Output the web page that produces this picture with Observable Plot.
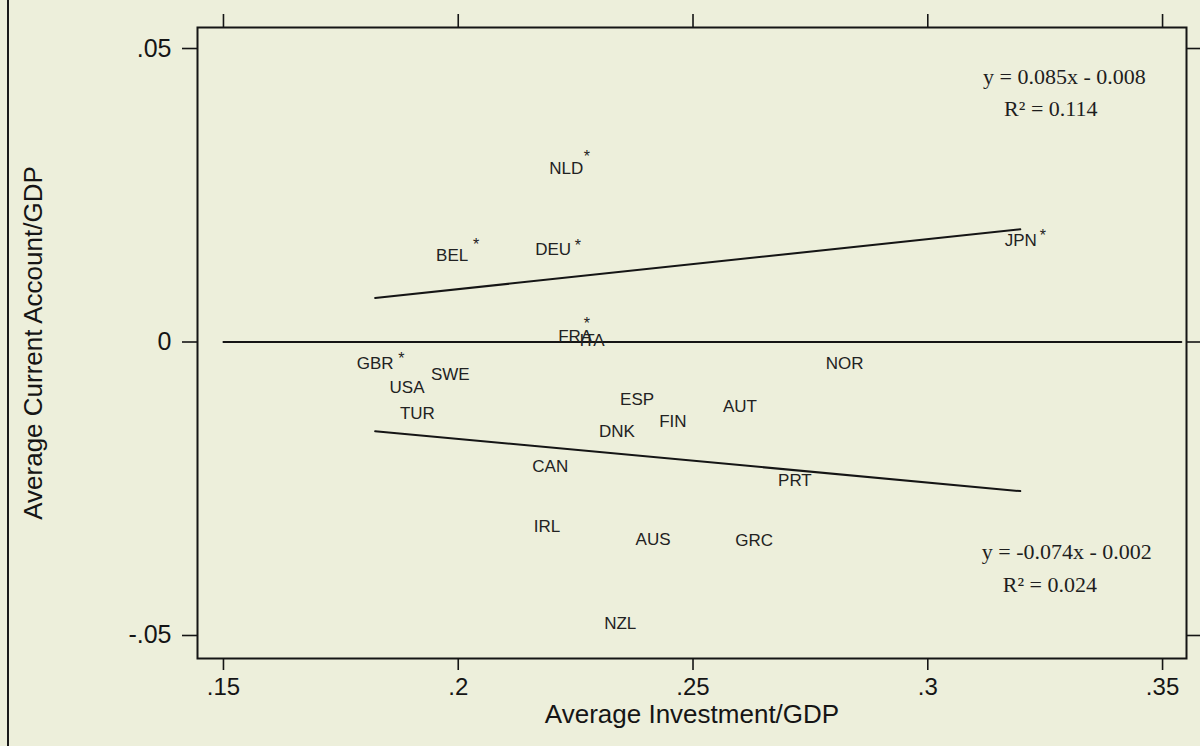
<!DOCTYPE html>
<html>
<head>
<meta charset="utf-8">
<script src="https://cdn.jsdelivr.net/npm/d3@7"></script>
<script src="https://cdn.jsdelivr.net/npm/@observablehq/plot@0.6"></script>
<style>
  html, body { margin: 0; padding: 0; background: #edefdb; }
  #wrap { position: relative; width: 1200px; height: 746px; overflow: hidden; background: #edefdb; }
  #edge { position: absolute; left: 7px; top: 0; width: 2px; height: 746px; background: #1a1a1a; }
  svg { display: block; }
</style>
</head>
<body>
<div id="wrap"><div id="edge"></div></div>
<script>
// ---- data ----
const countries = ["NLD","BEL","DEU","JPN","FRA","ITA","GBR","SWE","USA","TUR","NOR","ESP","AUT","FIN","DNK","CAN","PRT","IRL","AUS","GRC","NZL"];
const investment = [0.2230,0.1987,0.2202,0.3198,0.2249,0.2285,0.1823,0.1983,0.1891,0.1913,0.2823,0.2381,0.2600,0.2457,0.2338,0.2196,0.2717,0.2189,0.2415,0.2630,0.2345];
const currentAccount = [0.0295,0.0148,0.0158,0.0172,0.0010,0.0002,-0.0037,-0.0056,-0.0078,-0.0122,-0.0037,-0.0098,-0.0110,-0.0136,-0.0152,-0.0212,-0.0236,-0.0315,-0.0337,-0.0339,-0.0480];

// asterisk markers next to some labels
const starred = ["NLD","BEL","DEU","JPN","FRA","GBR"];
const starX = [0.2274, 0.2038, 0.2255, 0.3245, 0.2274, 0.1879];
const starY = [0.0322, 0.0172, 0.0170, 0.0187, 0.0037, -0.0022];

const fitX = [0.1823, 0.3197];
const fitUpperY = [0.0075, 0.0192];
const fitLowerY = [-0.0152, -0.0254];
const zeroLineX = [0.15, 0.354];
const zeroLineY = [0, 0];

const equations = ["y = 0.085x - 0.008", "R\u00B2 = 0.114", "y = -0.074x - 0.002", "R\u00B2 = 0.024"];
const equationX = [0.3291, 0.3262, 0.3296, 0.3260];
const equationY = [0.0451, 0.0397, -0.0358, -0.0414];

const xTicks = [0.15, 0.2, 0.25, 0.3, 0.35];
const yTicks = [0.05, 0, -0.05];
const xTitle = "Average Investment/GDP";
const yTitle = "Average Current Account/GDP";

// ---- build tables ----
const points = countries.map((c, i) => ({c, x: investment[i], y: currentAccount[i]}));
const stars = starred.map((c, i) => ({c, x: starX[i], y: starY[i]}));
const lineData = [
  ...fitX.map((x, i) => ({g: "upper", x, y: fitUpperY[i]})),
  ...fitX.map((x, i) => ({g: "lower", x, y: fitLowerY[i]})),
  ...zeroLineX.map((x, i) => ({g: "zero", x, y: zeroLineY[i]}))
];
const eqData = equations.map((t, i) => ({t, x: equationX[i], y: equationY[i]}));

const fmt = d => d === 0 ? "0" : String(d).replace("0.", ".");
const ink = "#151515";

const chart = Plot.plot({
  width: 1200,
  height: 746,
  marginLeft: 197,
  marginRight: 14,
  marginTop: 27,
  marginBottom: 88,
  style: {fontFamily: "'Liberation Sans', Arial, sans-serif", background: "transparent", color: ink},
  x: {domain: [0.14447, 0.3551], axis: null},
  y: {domain: [-0.05392, 0.05358], axis: null},
  marks: [
    Plot.line(lineData, {x: "x", y: "y", z: "g", stroke: ink, strokeWidth: 2}),
    Plot.text(points, {x: "x", y: "y", text: "c", fontSize: 17, fill: "#222"}),
    Plot.text(stars, {x: "x", y: "y", text: () => "*", fontSize: 16, fill: "#222", dy: 4}),
    Plot.text(eqData, {x: "x", y: "y", text: "t", fontSize: 22, fontFamily: "'Liberation Serif', 'Times New Roman', serif", fill: "#1e1e1e"}),
    Plot.frame({stroke: ink, strokeWidth: 2}),
    Plot.axisX({anchor: "bottom", ticks: xTicks, tickSize: 12, tickPadding: 7, tickFormat: fmt, fontSize: 24, strokeWidth: 1.6, label: null}),
    Plot.axisX({anchor: "top", ticks: xTicks, tickSize: 14, tickFormat: () => "", strokeWidth: 1.6, label: null}),
    Plot.axisY({anchor: "left", ticks: yTicks, tickSize: 15, tickPadding: 11, tickFormat: fmt, fontSize: 25, strokeWidth: 1.6, label: null}),
    Plot.axisY({anchor: "right", ticks: yTicks, tickSize: 14, tickFormat: () => "", strokeWidth: 1.6, label: null}),
    Plot.text([xTitle], {frameAnchor: "bottom", text: d => d, dy: 56, lineAnchor: "middle", textAnchor: "middle", fontSize: 26, fill: ink}),
    Plot.text([yTitle], {frameAnchor: "left", text: d => d, rotate: -90, dx: -164, lineAnchor: "middle", textAnchor: "middle", fontSize: 26, fill: ink})
  ]
});
document.getElementById("wrap").appendChild(chart);
</script>
</body>
</html>
